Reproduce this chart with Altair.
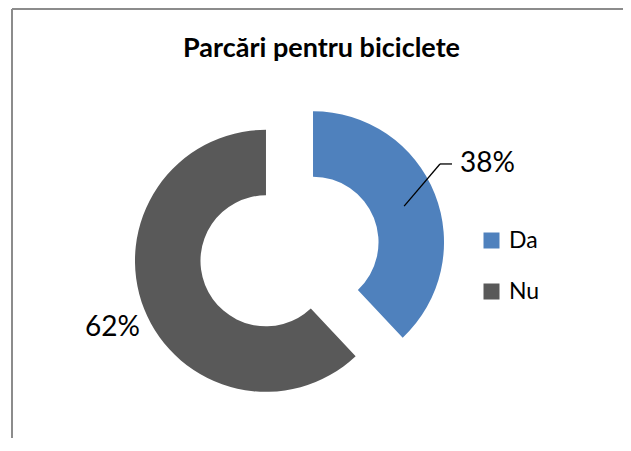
import altair as alt
import pandas as pd

# ---- data ----
categories = ["Da", "Nu"]
values = [38, 62]
colors = ["#4F81BD", "#595959"]
title_text = "Parcări pentru biciclete"

# ---- layout constants (pixels, view coordinates) ----
W, H = 611, 429
CX, CY = 277.5, 242.5       # centre of the (unexploded) doughnut
EXPLODE = 25.3              # slice explosion distance
R_OUT, R_IN = 131, 65.5
LR = 150                    # label radius
RDX, RDY = 7.5, -23         # label nudge, right side
LDX, LDY = 13.5, 12         # label nudge, left side
LEADER_START = 98
FONT = "Lato"

df = pd.DataFrame({"category": categories, "value": values,
                   "idx": list(range(len(categories)))})

base = (
    alt.Chart(df)
    .transform_joinaggregate(total="sum(value)")
    .transform_window(cum="sum(value)", sort=[alt.SortField("idx")])
    .transform_calculate(
        a0="2*PI*(datum.cum - datum.value)/datum.total",
        a1="2*PI*datum.cum/datum.total",
    )
    .transform_calculate(mid="(datum.a0 + datum.a1)/2")
    .transform_calculate(
        px=f"{CX} + {EXPLODE}*sin(datum.mid)",
        py=f"{CY} - {EXPLODE}*cos(datum.mid)",
        right="sin(datum.mid) > 0",
        pct="format(datum.value/datum.total, '.0%')",
    )
    .transform_calculate(
        lx=f"datum.px + {LR}*sin(datum.mid) + (datum.right ? {RDX} : {LDX})",
        ly=f"datum.py - {LR}*cos(datum.mid) + (datum.right ? {RDY} : {LDY})",
        sx=f"datum.px + {LEADER_START}*sin(datum.mid)",
        sy=f"datum.py - {LEADER_START}*cos(datum.mid)",
    )
    .transform_calculate(
        ex="datum.lx - 20",
        ex2="datum.lx - 8",
    )
)

X = lambda f: alt.X(f, type="quantitative", scale=None, axis=None, stack=False)
Y = lambda f: alt.Y(f, type="quantitative", scale=None, axis=None, stack=False)

arcs = base.mark_arc(outerRadius=R_OUT, innerRadius=R_IN).encode(
    x=X("px"),
    y=Y("py"),
    theta=alt.Theta("a0:Q", scale=None),
    theta2="a1:Q",
    color=alt.Color(
        "category:N",
        scale=alt.Scale(domain=categories, range=colors),
        legend=alt.Legend(
            title=None, orient="none", legendX=468, legendY=220,
            symbolType="square", symbolSize=256, symbolStrokeWidth=0,
            labelFont=FONT, labelFontSize=23, labelColor="black",
            labelOffset=6, rowPadding=27, padding=0,
        ),
    ),
)

leader_a = base.transform_filter("datum.right").mark_rule(color="black", strokeWidth=1.3).encode(
    x=X("sx"), y=Y("sy"), x2="ex:Q", y2="ly:Q"
)
leader_b = base.transform_filter("datum.right").mark_rule(color="black", strokeWidth=1.3).encode(
    x=X("ex"), y=Y("ly"), x2="ex2:Q", y2="ly:Q"
)

lab_r = base.transform_filter("datum.right").mark_text(
    align="left", baseline="middle", font=FONT, fontSize=28, color="black"
).encode(x=X("lx"), y=Y("ly"), text="pct:N")
lab_l = base.transform_filter("!datum.right").mark_text(
    align="right", baseline="middle", font=FONT, fontSize=28, color="black"
).encode(x=X("lx"), y=Y("ly"), text="pct:N")

frame_src = alt.Chart(alt.Data(values=[{}]))
frame_left = frame_src.mark_rule(color="#8c8c8c", strokeWidth=2).encode(
    x=alt.value(0), y=alt.value(0), y2=alt.value(H + 1)
)
frame_top = frame_src.mark_rule(color="#8c8c8c", strokeWidth=2).encode(
    x=alt.value(0), x2=alt.value(W + 1), y=alt.value(0)
)

chart = (
    alt.layer(frame_left, frame_top, arcs, leader_a, leader_b, lab_r, lab_l)
    .properties(
        width=W,
        height=H,
        padding={"left": 4, "top": 1, "right": 0, "bottom": 0},
        autosize=alt.AutoSizeParams(type="none"),
        background="white",
        title=alt.TitleParams(
            text=title_text, font=FONT, fontSize=27, fontWeight="bold",
            color="black", anchor="middle", frame="group", offset=-76,
            baseline="alphabetic", dx=4,
        ),
    )
    .configure_view(stroke=None)
)

chart.save("out.html", embed_options={"renderer": "svg", "actions": False})
